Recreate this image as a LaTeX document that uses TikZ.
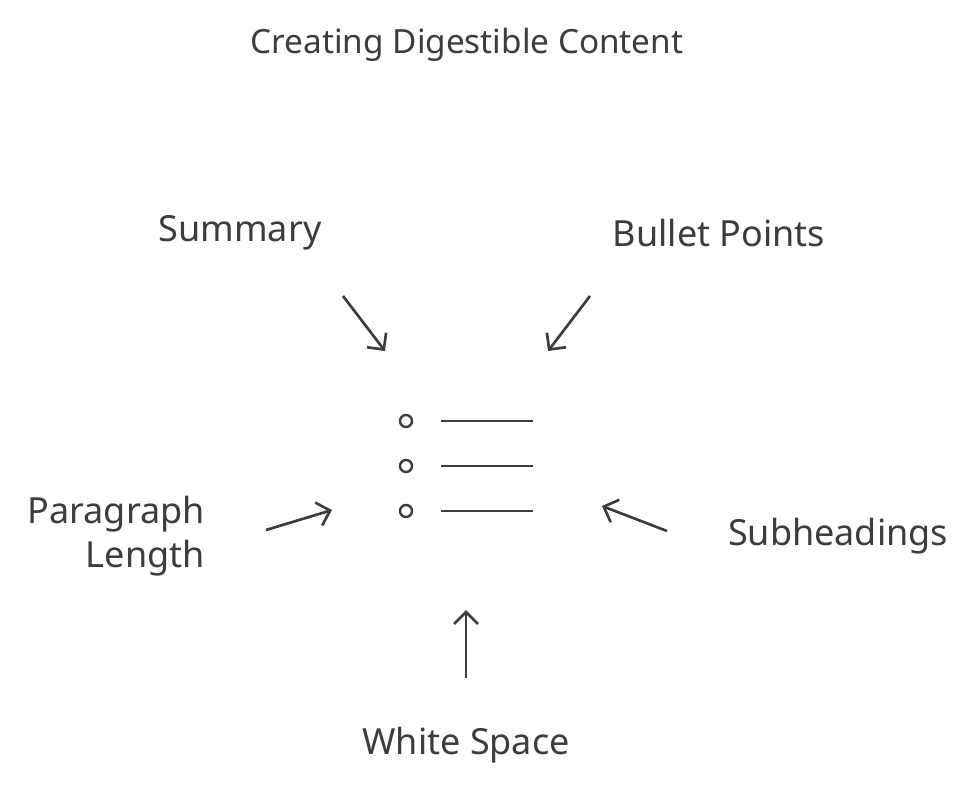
\documentclass[tikz,border=0pt]{standalone}
\usepackage{fontspec}
\setmainfont{Noto Sans}
\usetikzlibrary{arrows.meta}
\definecolor{ink}{HTML}{3C3C3C}
\tikzset{
  lbl/.style={text=ink,font=\fontsize{27}{33}\selectfont,inner sep=0pt},
  ttl/.style={text=ink,font=\fontsize{25}{30}\selectfont,inner sep=0pt},
  arr/.style={draw=ink,line width=2pt,-{Straight Barb[length=9pt,width=18pt,line width=2pt]}},
  bar/.style={draw=ink,line width=2pt},
  dot/.style={draw=ink,line width=1.8pt,circle,minimum size=9pt,inner sep=0pt}
}
\begin{document}
\begin{tikzpicture}[x=0.75pt,y=-0.75pt]
\useasboundingbox (0,0) rectangle (980,793);
\node[ttl] (title) at (467,45) {Creating Digestible Content};
\node[lbl] (sum) at (240,233) {Summary};
\node[lbl] (bul) at (719,233) {Bullet Points};
\node[lbl,align=right,anchor=east] (par) at (205,536) {Paragraph\\Length};
\node[lbl] (sub) at (838,536) {Subheadings};
\node[lbl] (ws) at (466,745) {White Space};
\foreach \y/\n in {421/a,466/b,511/c}{
  \node[dot] (d\n) at (406,\y) {};
  \coordinate (l\n1) at (441,\y); \coordinate (l\n2) at (533,\y);
  \draw[bar] (l\n1) -- (l\n2);
}
\coordinate (s1) at (343,296); \coordinate (s2) at (385,351);
\coordinate (b1) at (590,296); \coordinate (b2) at (548,351);
\coordinate (p1) at (266,530); \coordinate (p2) at (332,510);
\coordinate (h1) at (667,531); \coordinate (h2) at (602,506);
\coordinate (w1) at (466,678); \coordinate (w2) at (466,610);
\draw[arr] (s1) -- (s2);
\draw[arr] (b1) -- (b2);
\draw[arr] (p1) -- (p2);
\draw[arr] (h1) -- (h2);
\draw[arr] (w1) -- (w2);
\end{tikzpicture}
\end{document}
